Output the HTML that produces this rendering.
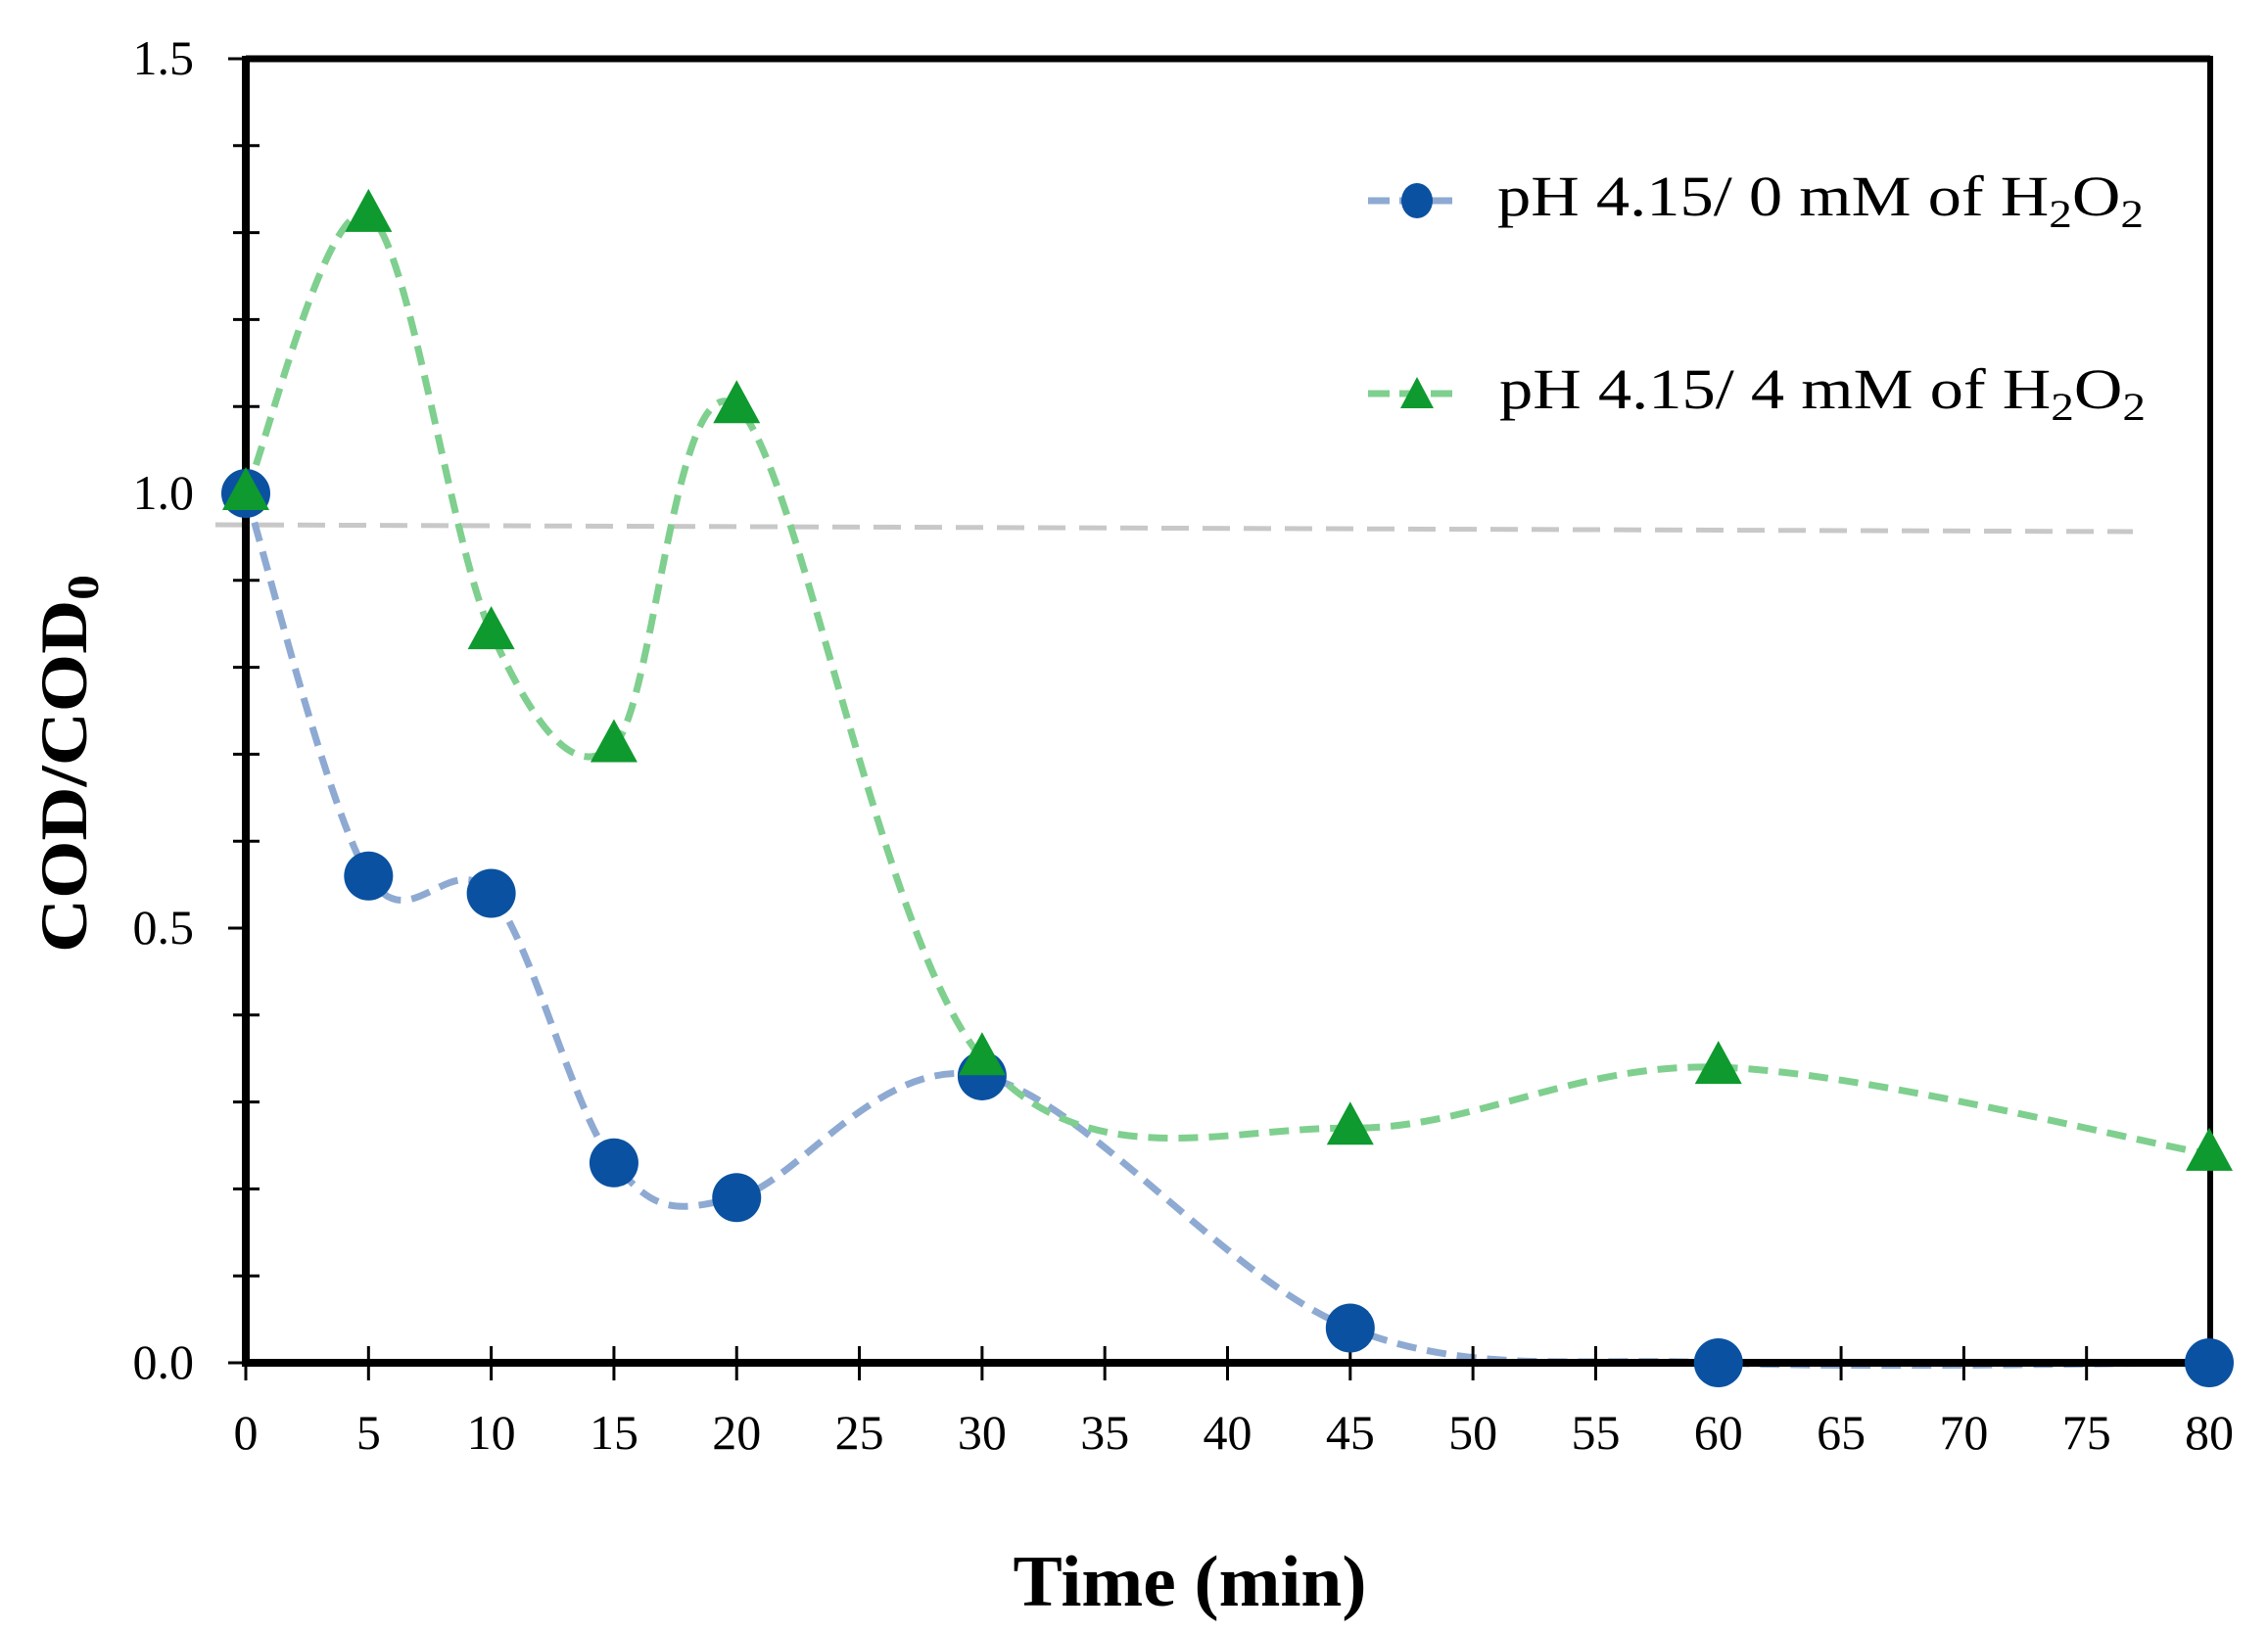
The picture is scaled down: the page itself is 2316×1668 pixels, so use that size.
<!DOCTYPE html>
<html><head><meta charset="utf-8"><style>
html,body{margin:0;padding:0;background:#fff;}
svg{display:block;}
text{font-family:"Liberation Serif",serif;fill:#000;}
</style></head><body>
<svg id="s" width="2316" height="1668" viewBox="0 0 2316 1668" xmlns="http://www.w3.org/2000/svg">
<g id="g"></g>
</svg>
<script>
const X=t=>251+t*25.0625, Y=v=>1392-v*888;
const g=document.getElementById('g');
let h='';
h+=`<line x1="220" y1="536" x2="2178" y2="543" stroke="#c8c8c8" stroke-width="5" stroke-dasharray="28,14"/>`;
function cr(pts){
  let d=`M${pts[0][0]},${pts[0][1]}`;
  for(let i=0;i<pts.length-1;i++){
    const p0=pts[i-1]||pts[i],p1=pts[i],p2=pts[i+1],p3=pts[i+2]||p2;
    const c1=[p1[0]+(p2[0]-p0[0])/6,p1[1]+(p2[1]-p0[1])/6];
    const c2=[p2[0]-(p3[0]-p1[0])/6,p2[1]-(p3[1]-p1[1])/6];
    d+=` C${c1[0]},${c1[1]} ${c2[0]},${c2[1]} ${p2[0]},${p2[1]}`;
  }
  return d;
}
const T=[0,5,10,15,20,30,45,60,80];
const B=[1.0,0.56,0.54,0.23,0.19,0.33,0.04,0,0];
const G=[1.0,1.32,0.84,0.71,1.10,0.35,0.27,0.34,0.24];
const bp=T.map((t,i)=>[X(t),Y(B[i])]), gp=T.map((t,i)=>[X(t),Y(G[i])]);
h+=`<path d="${cr(bp)}" fill="none" stroke="#8eaad2" stroke-width="7" stroke-dasharray="20,11"/>`;
h+=`<path d="${cr(gp)}" fill="none" stroke="#7fcf8f" stroke-width="7" stroke-dasharray="20,11"/>`;
h+=`<line x1="251" y1="60" x2="2257" y2="60" stroke="#000" stroke-width="7"/>`;
h+=`<line x1="2257" y1="57" x2="2257" y2="1395" stroke="#000" stroke-width="6"/>`;
h+=`<line x1="251" y1="57" x2="251" y2="1396" stroke="#000" stroke-width="8"/>`;
h+=`<line x1="247" y1="1392" x2="2260" y2="1392" stroke="#000" stroke-width="8"/>`;
for(let k=0;k<=15;k++){const y=Y(k/10);
  if(k%5==0){h+=`<line x1="233" y1="${y}" x2="251" y2="${y}" stroke="#000" stroke-width="3"/>`;
   h+=`<text x="198" y="${y+16}" font-size="50" text-anchor="end">${(k/10).toFixed(1)}</text>`;}
  else h+=`<line x1="238" y1="${y}" x2="265" y2="${y}" stroke="#000" stroke-width="3"/>`;}
for(let t=0;t<=80;t+=5){const x=X(t);
  h+=`<line x1="${x}" y1="${t==0?1392:1375}" x2="${x}" y2="1410" stroke="#000" stroke-width="3"/>`;
  h+=`<text x="${x}" y="1480" font-size="50" text-anchor="middle">${t}</text>`;}
bp.forEach(p=>h+=`<circle cx="${p[0]}" cy="${p[1]}" r="25" fill="#0a51a1"/>`);
gp.forEach(p=>h+=`<polygon points="${p[0]},${p[1]-27} ${p[0]-24},${p[1]+17} ${p[0]+24},${p[1]+17}" fill="#0e9a2e"/>`);
h+=`<line x1="1397" y1="205" x2="1492" y2="205" stroke="#8eaad2" stroke-width="7" stroke-dasharray="22,10"/>`;
h+=`<ellipse cx="1447" cy="205" rx="16" ry="18" fill="#0a51a1"/>`;
h+=`<line x1="1397" y1="402" x2="1492" y2="402" stroke="#7fcf8f" stroke-width="7" stroke-dasharray="22,10"/>`;
h+=`<polygon points="1447,385 1430,417 1464,417" fill="#0e9a2e"/>`;
h+=`<text x="1529" y="220" font-size="58" textLength="660" lengthAdjust="spacingAndGlyphs">pH 4.15/ 0 mM of H<tspan font-size="40" dy="12">2</tspan><tspan dy="-12">O</tspan><tspan font-size="40" dy="12">2</tspan></text>`;
h+=`<text x="1531" y="417" font-size="58" textLength="660" lengthAdjust="spacingAndGlyphs">pH 4.15/ 4 mM of H<tspan font-size="40" dy="12">2</tspan><tspan dy="-12">O</tspan><tspan font-size="40" dy="12">2</tspan></text>`;
h+=`<text x="1215" y="1640" font-size="74" font-weight="bold" text-anchor="middle" textLength="361" lengthAdjust="spacingAndGlyphs">Time (min)</text>`;
h+=`<text transform="translate(88,780) rotate(-90)" font-size="68" font-weight="bold" text-anchor="middle" textLength="386" lengthAdjust="spacingAndGlyphs">COD/COD<tspan font-size="46" dy="12">0</tspan></text>`;
g.innerHTML=h;
</script>
</body></html>
